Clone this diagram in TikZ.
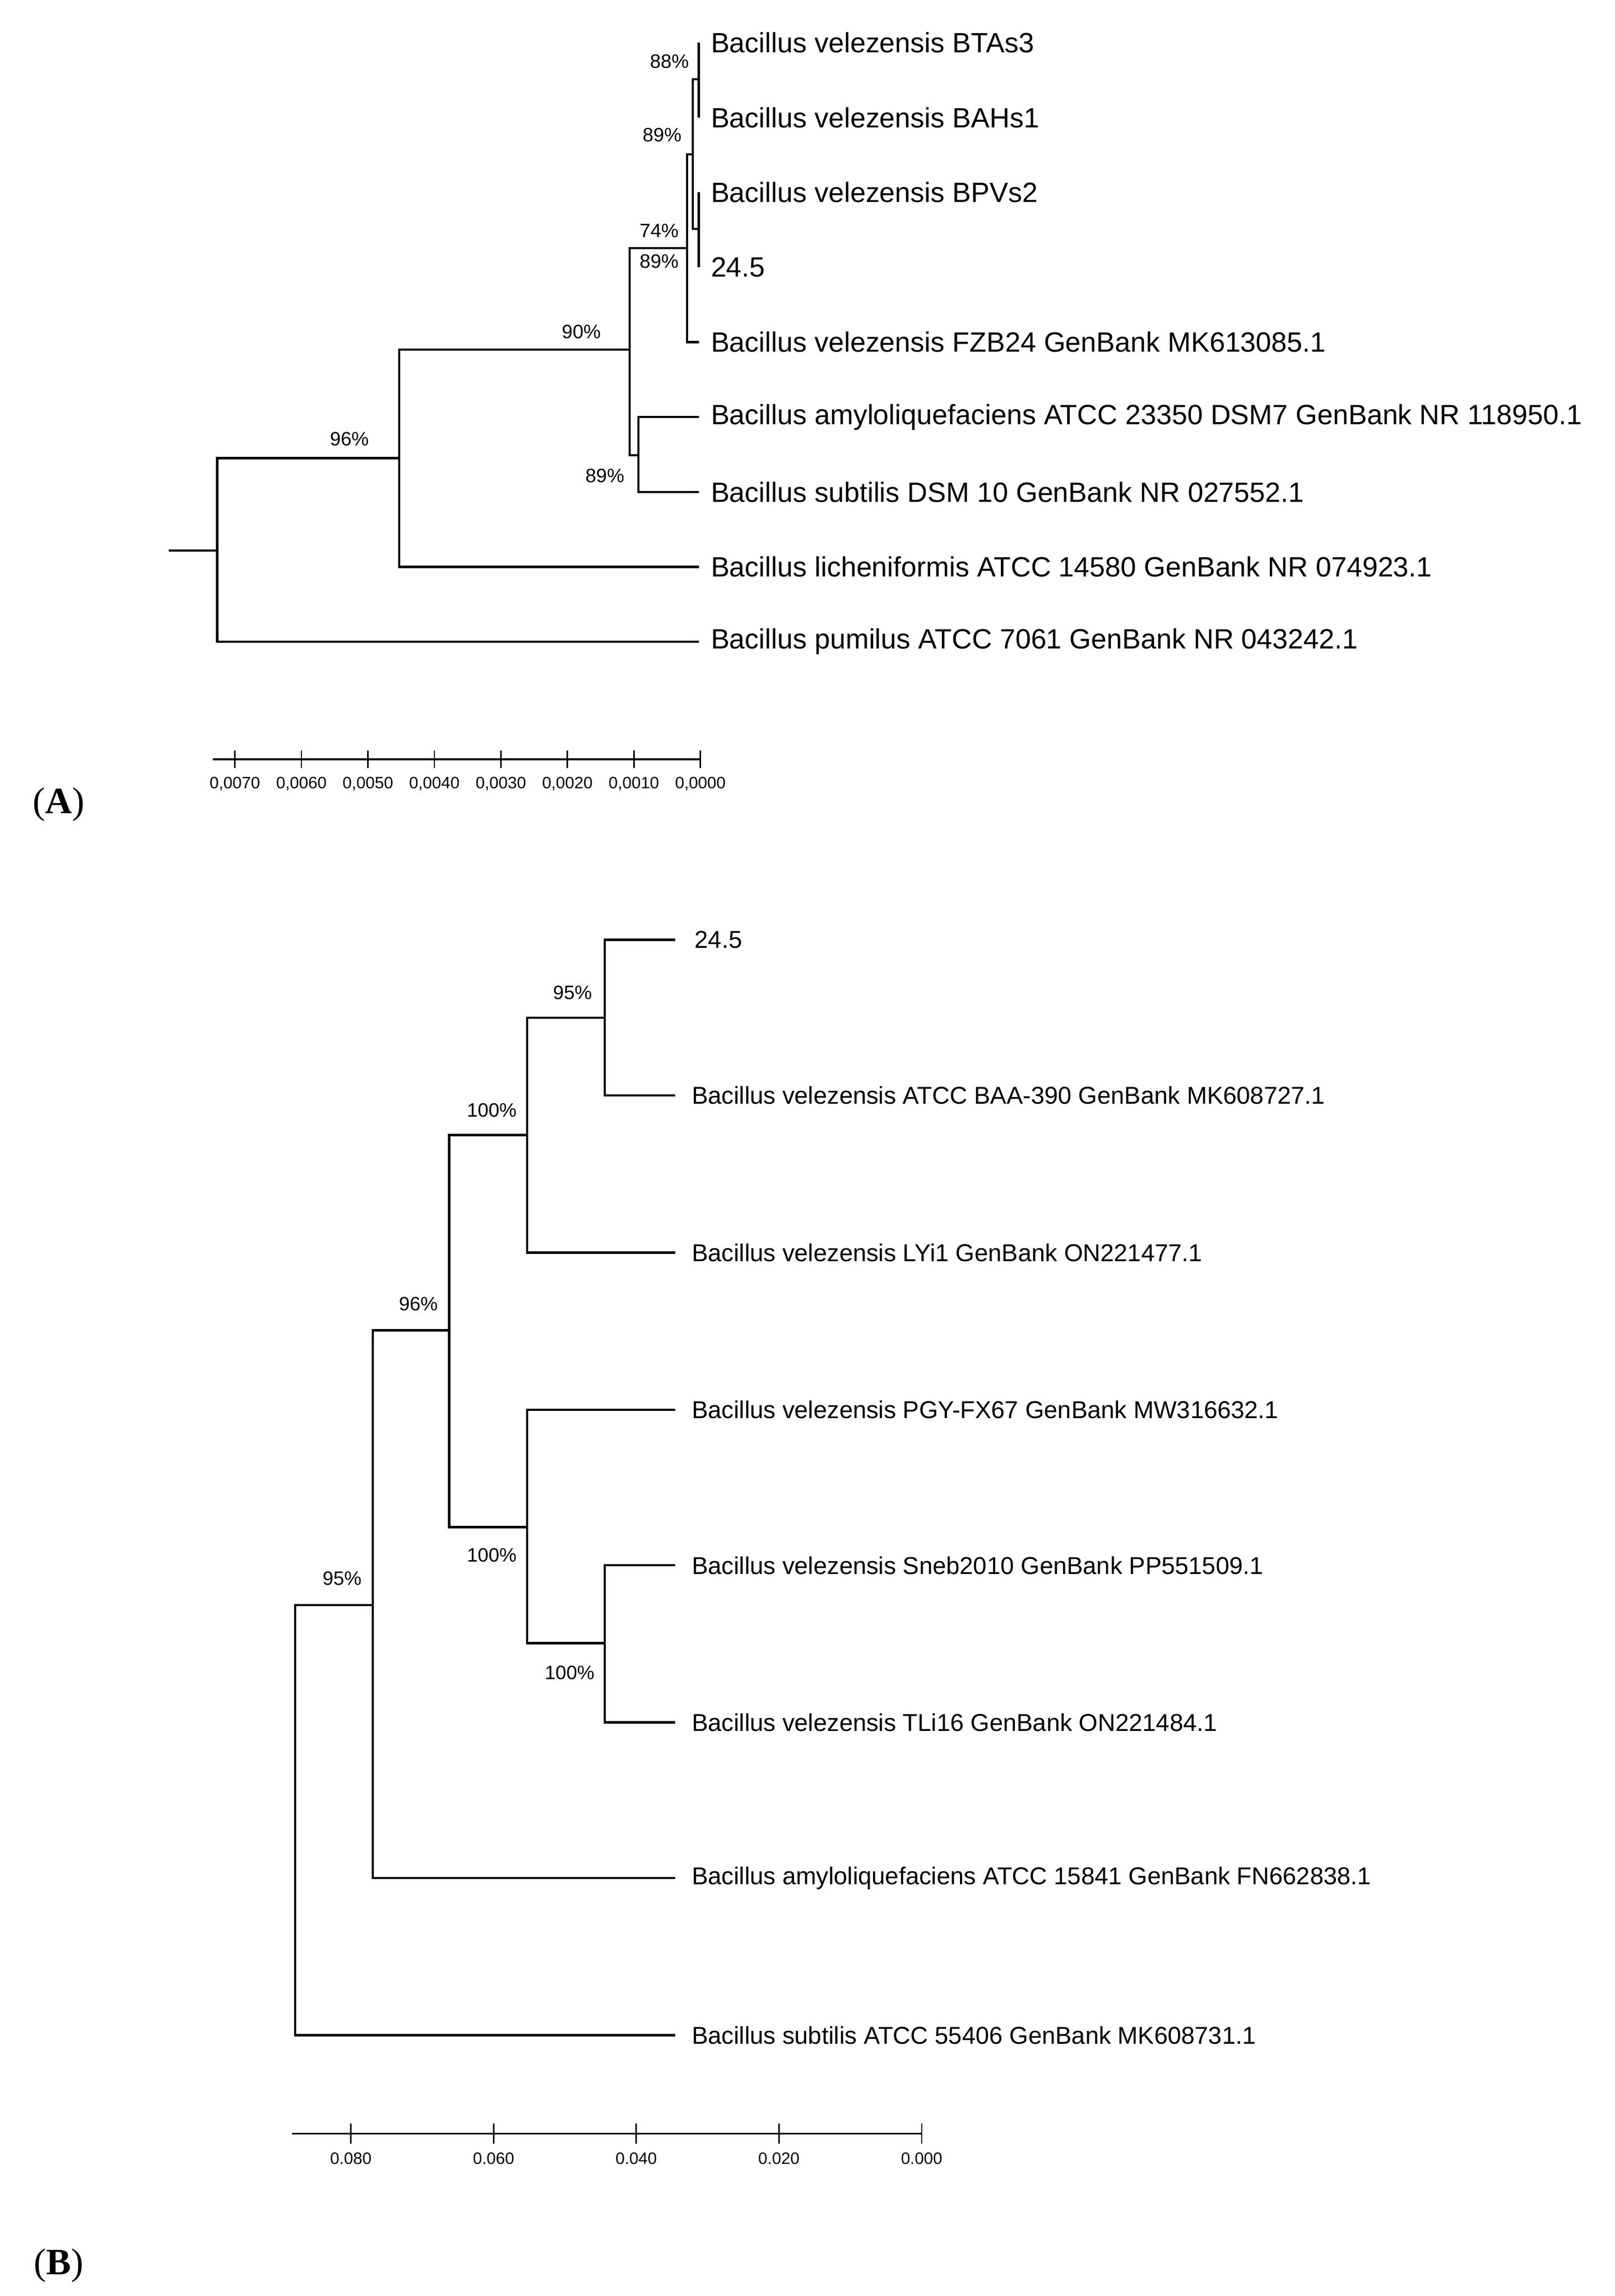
\documentclass[tikz,border=0pt]{standalone}
\usepackage{fontspec}
\setmainfont{Liberation Sans}
\newfontfamily\panelfont{Liberation Serif}
\usetikzlibrary{positioning}
\tikzset{
	branch/.style={black, line width=1.1pt},
	leafA/.style={anchor=west, inner sep=0pt, font=\fontsize{13.5}{15}\selectfont},
	leafB/.style={anchor=west, inner sep=0pt, font=\fontsize{11.8}{13}\selectfont},
	boot/.style={inner sep=0pt, font=\fontsize{9.4}{11}\selectfont},
	scalelbl/.style={inner sep=0pt, font=\fontsize{8}{9}\selectfont},
	panel/.style={inner sep=0pt, font=\fontsize{18}{20}\selectfont\panelfont}
}
\begin{document}
\begin{tikzpicture}[x=0.025cm, y=-0.025cm]
	\useasboundingbox (0,0) rectangle (1100,1563.6);

	% tree A
	\node (btas) [leafA] at (484,29) {Bacillus velezensis BTAs3};
	\node (bahs) [leafA] at (484,80) {Bacillus velezensis BAHs1};
	\node (bpvs) [leafA] at (484,131) {Bacillus velezensis BPVs2};
	\node (isoA) [leafA] at (484,182) {24.5};
	\node (fzb) [leafA] at (484,233) {Bacillus velezensis FZB24 GenBank MK613085.1};
	\node (amyloA) [leafA] at (484,284) {Bacillus amyloliquefaciens ATCC 23350 DSM7 GenBank NR 118950.1};
	\node (subtA) [leafA] at (484,335) {Bacillus subtilis DSM 10 GenBank NR 027552.1};
	\node (lich) [leafA] at (484,386) {Bacillus licheniformis ATCC 14580 GenBank NR 074923.1};
	\node (pumi) [leafA] at (484,437) {Bacillus pumilus ATCC 7061 GenBank NR 043242.1};

	\coordinate (a1) at (476,54);
	\coordinate (a2) at (476,156);
	\coordinate (a3) at (472,105);
	\coordinate (a4) at (468,169);
	\coordinate (a5) at (435,310);
	\coordinate (a6) at (429,238);
	\coordinate (a7) at (272,312);
	\coordinate (a8) at (148,375);
	\coordinate (rootA) at (115,375);

	\draw [branch] (476,29) -- (476,80);
	\draw [branch] (476,131) -- (476,182);
	\draw [branch] (a1) -| (a3) |- (a2);
	\draw [branch] (a3) -| (a4) |- (476,233);
	\draw [branch] (476,284) -| (a5) |- (476,335);
	\draw [branch] (a4) -| (a6) |- (a5);
	\draw [branch] (a6) -| (a7) |- (476,386);
	\draw [branch] (a7) -| (a8) |- (476,437);
	\draw [branch] (rootA) -- (a8);

	\node (bA1) [boot] at (456,42) {88\%};
	\node (bA2) [boot] at (451,92) {89\%};
	\node (bA3) [boot] at (449,157) {74\%};
	\node (bA4) [boot] at (449,178) {89\%};
	\node (bA5) [boot] at (396,226) {90\%};
	\node (bA6) [boot] at (238,299) {96\%};
	\node (bA7) [boot] at (412,324) {89\%};

	% scale A
	\draw [branch, line width=0.9pt] (145,517) -- (477,517);
	\foreach \i/\v in {0/0070,1/0060,2/0050,3/0040,4/0030,5/0020,6/0010,7/0000}
		\draw [branch, line width=0.7pt] (160+\i*45.3,511) -- (160+\i*45.3,523)
			node [scalelbl, below=4pt] {0,\v};

	\node (panelA) [panel] at (40,548) {(\textbf{A})};

	% tree B
	\node (isoB) [leafB] at (473,640) {24.5};
	\node (baa) [leafB] at (471,746) {Bacillus velezensis ATCC BAA-390 GenBank MK608727.1};
	\node (lyi) [leafB] at (471,853) {Bacillus velezensis LYi1 GenBank ON221477.1};
	\node (pgy) [leafB] at (471,960) {Bacillus velezensis PGY-FX67 GenBank MW316632.1};
	\node (sneb) [leafB] at (471,1066) {Bacillus velezensis Sneb2010 GenBank PP551509.1};
	\node (tli) [leafB] at (471,1173) {Bacillus velezensis TLi16 GenBank ON221484.1};
	\node (amyloB) [leafB] at (471,1279) {Bacillus amyloliquefaciens ATCC 15841 GenBank FN662838.1};
	\node (subtB) [leafB] at (471,1386) {Bacillus subtilis ATCC 55406 GenBank MK608731.1};

	\coordinate (b1) at (412,693);
	\coordinate (b2) at (359,773);
	\coordinate (b3) at (412,1119);
	\coordinate (b4) at (359,1040);
	\coordinate (b5) at (306,906);
	\coordinate (b6) at (254,1093);
	\coordinate (b7) at (201,1240);

	\draw [branch] (460,640) -| (b1) |- (460,746);
	\draw [branch] (b1) -| (b2) |- (460,853);
	\draw [branch] (460,1066) -| (b3) |- (460,1173);
	\draw [branch] (460,960) -| (b4) |- (b3);
	\draw [branch] (b2) -| (b5) |- (b4);
	\draw [branch] (b5) -| (b6) |- (460,1279);
	\draw [branch] (b6) -| (b7) |- (460,1386);

	\node (bB1) [boot] at (390,676) {95\%};
	\node (bB2) [boot] at (335,756) {100\%};
	\node (bB3) [boot] at (285,888) {96\%};
	\node (bB4) [boot] at (335,1059) {100\%};
	\node (bB5) [boot] at (388,1139) {100\%};
	\node (bB6) [boot] at (233,1075) {95\%};

	% scale B
	\draw [branch, line width=0.9pt] (199,1453) -- (628,1453);
	\foreach \i/\v in {0/080,1/060,2/040,3/020,4/000}
		\draw [branch, line width=0.7pt] (239+\i*97.2,1446) -- (239+\i*97.2,1460)
			node [scalelbl, below=4pt] {0.\v};

	\node (panelB) [panel] at (40,1543) {(\textbf{B})};
\end{tikzpicture}
\end{document}
